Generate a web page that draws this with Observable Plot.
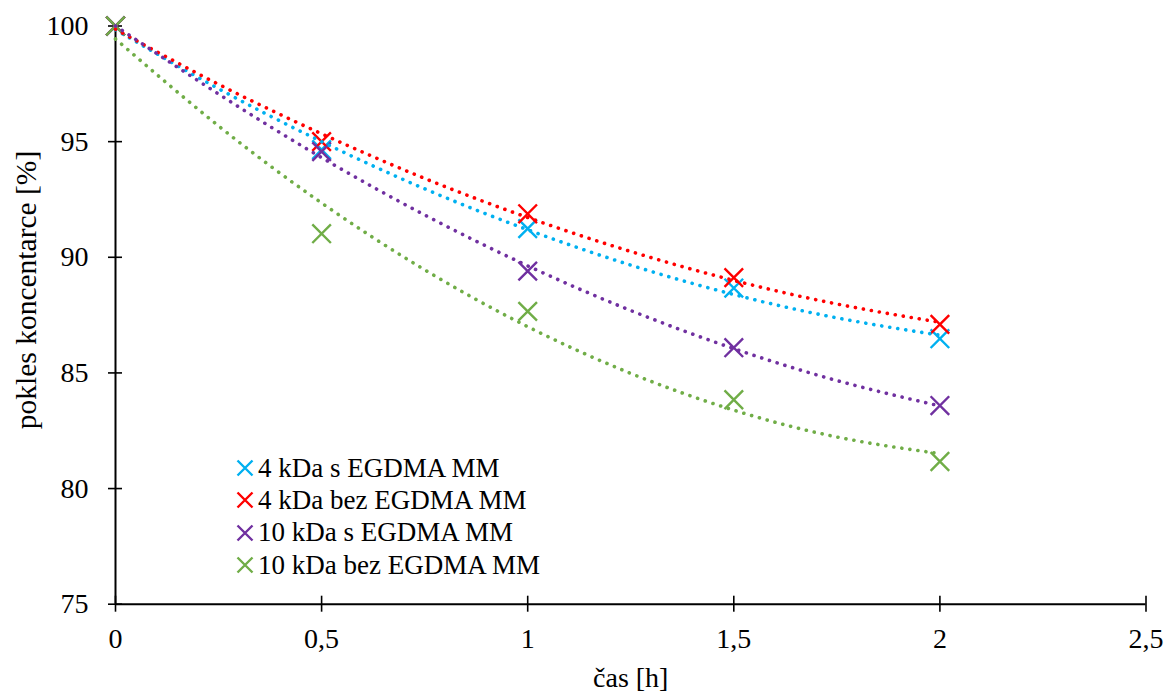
<!DOCTYPE html>
<html>
<head>
<meta charset="utf-8">
<script src="https://cdn.jsdelivr.net/npm/d3@7"></script>
<script src="https://cdn.jsdelivr.net/npm/@observablehq/plot@0.6"></script>
<style>
  html, body { margin: 0; padding: 0; background: #fff; }
  #wrap { position: relative; width: 1167px; height: 693px; font-family: "Liberation Serif", "Times New Roman", Times, serif; }
  #wrap svg text { font-family: "Liberation Serif", "Times New Roman", Times, serif !important; }
  #legend { position: absolute; left: 236px; top: 452px; font-size: 27px; color: #000; }
  #legend .row { display: flex; align-items: center; height: 32.3px; white-space: nowrap; }
  #legend svg { width: 18px; height: 18px; margin-right: 4px; }
  #ylabel { position: absolute; left: 27px; top: 290px; transform: translate(-50%, -50%) rotate(-90deg); font-size: 29.5px; white-space: nowrap; color: #000; line-height: 1; }
</style>
</head>
<body>
<div id="wrap"><div id="legend"></div><div id="ylabel"></div></div>
<script>
// ---- data ----
const seriesNames = ["4 kDa s EGDMA MM", "4 kDa bez EGDMA MM", "10 kDa s EGDMA MM", "10 kDa bez EGDMA MM"];
const seriesColors = ["#00B0F0", "#FF0000", "#7030A0", "#70AD47"];
const times = [0, 0.5, 1, 1.5, 2];
const blueValues   = [100, 94.65, 91.24, 88.67, 86.48];
const redValues    = [100, 95.00, 91.88, 89.12, 87.10];
const purpleValues = [100, 94.57, 89.40, 86.09, 83.59];
const greenValues  = [100, 91.02, 87.66, 83.84, 81.17];
// dotted trend lines
const trendTimes  = [0, 0.25, 0.5, 0.75, 1, 1.25, 1.5, 1.75, 2];
const blueTrend   = [99.84, 97.29, 95.00, 92.96, 91.19, 89.66, 88.39, 87.38, 86.63];
const redTrend    = [99.86, 97.48, 95.34, 93.41, 91.72, 90.25, 89.00, 87.98, 87.19];
const purpleTrend = [100.0, 97.06, 94.31, 91.83, 89.63, 87.70, 86.05, 84.67, 83.57];
const greenTrend  = [99.44, 95.68, 92.35, 89.46, 87.00, 84.98, 83.39, 82.23, 81.51];
const xTicks = [0, 0.5, 1, 1.5, 2, 2.5];
const yTicks = [75, 80, 85, 90, 95, 100];
const xLabel = "čas [h]";
const yLabel = "pokles koncentarce [%]";

const valueSets = [blueValues, redValues, purpleValues, greenValues];
const trendSets = [blueTrend, redTrend, purpleTrend, greenTrend];

const points = valueSets.flatMap((vals, i) => vals.map((v, j) => ({series: seriesNames[i], x: times[j], y: v})));
const trends = trendSets.flatMap((vals, i) => vals.map((v, j) => ({series: seriesNames[i], x: trendTimes[j], y: v})));

const fmt = d => String(d).replace(".", ",");
const FONT = '"Liberation Serif", "Times New Roman", Times, serif';

const marks = [
  Plot.ruleX([0], {stroke: "#000", strokeWidth: 2}),
  Plot.ruleY([75], {stroke: "#000", strokeWidth: 2}),
  Plot.axisX({ticks: xTicks, tickSize: 16, dy: -8, text: null, label: null, stroke: "#000", strokeWidth: 1.6}),
  Plot.axisY({ticks: yTicks, tickSize: 14, dx: 7, text: null, label: null, stroke: "#000", strokeWidth: 1.6}),
  Plot.axisX({ticks: xTicks, tickSize: 0, tickPadding: 24, tickFormat: fmt, label: null, fontSize: 28, fill: "#000", fontFamily: FONT}),
  Plot.axisY({ticks: yTicks, tickSize: 0, tickPadding: 27, label: null, fontSize: 28, fill: "#000", fontFamily: FONT}),
  Plot.axisX({ticks: [], tickSize: 0, label: xLabel, labelAnchor: "center", labelArrow: "none", labelOffset: 83, fontSize: 28, fill: "#000", fontFamily: FONT}),
];
seriesNames.forEach((s, i) => {
  marks.push(Plot.dot(points.filter(d => d.series === s), {x: "x", y: "y", symbol: "times", r: 8.5, stroke: seriesColors[i], strokeWidth: 2.4}));
});
seriesNames.forEach((s, i) => {
  marks.push(Plot.line(trends.filter(d => d.series === s), {x: "x", y: "y", curve: "natural", stroke: seriesColors[i], strokeWidth: 3.6, strokeLinecap: "round", strokeDasharray: "0.1 8"}));
});

const chart = Plot.plot({
  width: 1167,
  height: 693,
  marginLeft: 115,
  marginRight: 21.5,
  marginTop: 25.5,
  marginBottom: 89.3,
  style: {fontFamily: FONT, fontSize: "28px", color: "#000", background: "#fff", overflow: "visible"},
  x: {domain: [0, 2.5]},
  y: {domain: [75, 100]},
  marks
});
const wrap = document.getElementById("wrap");
wrap.insertBefore(chart, wrap.firstChild);

document.getElementById("ylabel").textContent = yLabel;

const legend = document.getElementById("legend");
seriesNames.forEach((s, i) => {
  const row = document.createElement("div");
  row.className = "row";
  row.innerHTML = `<svg viewBox="-9 -9 18 18"><path d="M-7.5,-7.5L7.5,7.5M-7.5,7.5L7.5,-7.5" stroke="${seriesColors[i]}" stroke-width="2.4" fill="none"/></svg><span>${s}</span>`;
  legend.appendChild(row);
});
</script>
</body>
</html>
